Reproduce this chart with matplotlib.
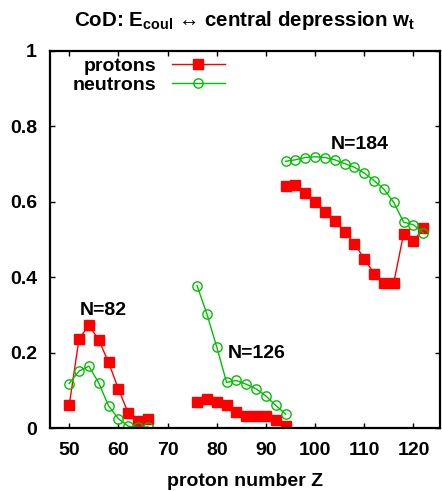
import numpy as np
import matplotlib
matplotlib.use("Agg")
import matplotlib.pyplot as plt

plt.rcParams['font.family'] = ['Liberation Sans', 'DejaVu Sans']
plt.rcParams['font.weight'] = 'bold'
plt.rcParams['mathtext.fontset'] = 'custom'
plt.rcParams['mathtext.rm'] = 'Liberation Sans:bold'
plt.rcParams['mathtext.bf'] = 'Liberation Sans:bold'
plt.rcParams['mathtext.it'] = 'Liberation Sans:bold'

# N=82 chain
z_82 = [50, 52, 54, 56, 58, 60, 62, 64, 66]
p_82 = [0.061, 0.237, 0.273, 0.235, 0.175, 0.105, 0.041, 0.021, 0.026]
n_82 = [0.119, 0.152, 0.165, 0.121, 0.060, 0.026, 0.006, 0.003, 0.004]

# N=126 chain
z_126 = [76, 78, 80, 82, 84, 86, 88, 90, 92, 94]
p_126 = [0.069, 0.077, 0.071, 0.062, 0.043, 0.034, 0.034, 0.034, 0.022, 0.007]
n_126 = [0.378, 0.303, 0.216, 0.122, 0.127, 0.117, 0.105, 0.086, 0.061, 0.038]

# N=184 chain
z_184 = [94, 96, 98, 100, 102, 104, 106, 108, 110, 112, 114, 116, 118, 120, 122]
p_184 = [0.641, 0.643, 0.623, 0.600, 0.574, 0.549, 0.521, 0.489, 0.449, 0.410,
         0.386, 0.386, 0.515, 0.495, 0.531]
n_184 = [0.707, 0.711, 0.717, 0.719, 0.717, 0.711, 0.701, 0.691, 0.676, 0.656,
         0.633, 0.598, 0.546, 0.539, 0.517]

chains = [(z_82, p_82, n_82), (z_126, p_126, n_126), (z_184, p_184, n_184)]
chain_labels = ["N=82", "N=126", "N=184"]
label_pos = [(57.0, 0.311), (88.1, 0.198), (109.1, 0.752)]

red = '#ff0000'
green = '#00c000'
fs = 14

fig = plt.figure(figsize=(4.42, 4.91), dpi=100)
ax = fig.add_axes([0.112, 0.1273, 0.8835, 0.7697])

for i, (z, p, n) in enumerate(chains):
    ax.plot(z, p, color=red, lw=1, marker='s', ms=6.7, mec=red, mfc=red,
            label='protons' if i == 0 else None)
    ax.plot(z, n, color=green, lw=1, marker='o', ms=6.7, mec=green, mfc='none',
            mew=1, label='neutrons' if i == 0 else None)

for txt, (x, y) in zip(chain_labels, label_pos):
    ax.text(x, y, txt, ha='center', va='center', fontsize=fs, fontweight='bold')

ax.set_xlim(46, 125.4)
ax.set_ylim(0, 1)
ax.set_xticks(np.arange(50, 121, 10))
ax.set_yticks(np.arange(0, 1.01, 0.2))
ax.set_yticklabels(['0', '0.2', '0.4', '0.6', '0.8', '1'])
ax.tick_params(direction='in', length=3.5, width=1, top=True, right=True,
               labelsize=fs)
ax.tick_params(axis='x', pad=10)
ax.tick_params(axis='y', pad=9)
for s in ax.spines.values():
    s.set_linewidth(1.6)

ax.set_xlabel('proton number Z', fontsize=fs, fontweight='bold', labelpad=10)
ax.set_title('CoD: E$_{\\mathbf{coul}}$ \u2194 central depression w$_{\\mathbf{t}}$',
             fontsize=14.8, fontweight='bold', pad=18)

ax.legend(loc='upper left', bbox_to_anchor=(0.06, 0.982), frameon=False,
          markerfirst=False, fontsize=fs, handlelength=2.73, handletextpad=0.77,
          labelspacing=0.05, borderpad=0, borderaxespad=0)

fig.savefig('out.png', dpi=100)
